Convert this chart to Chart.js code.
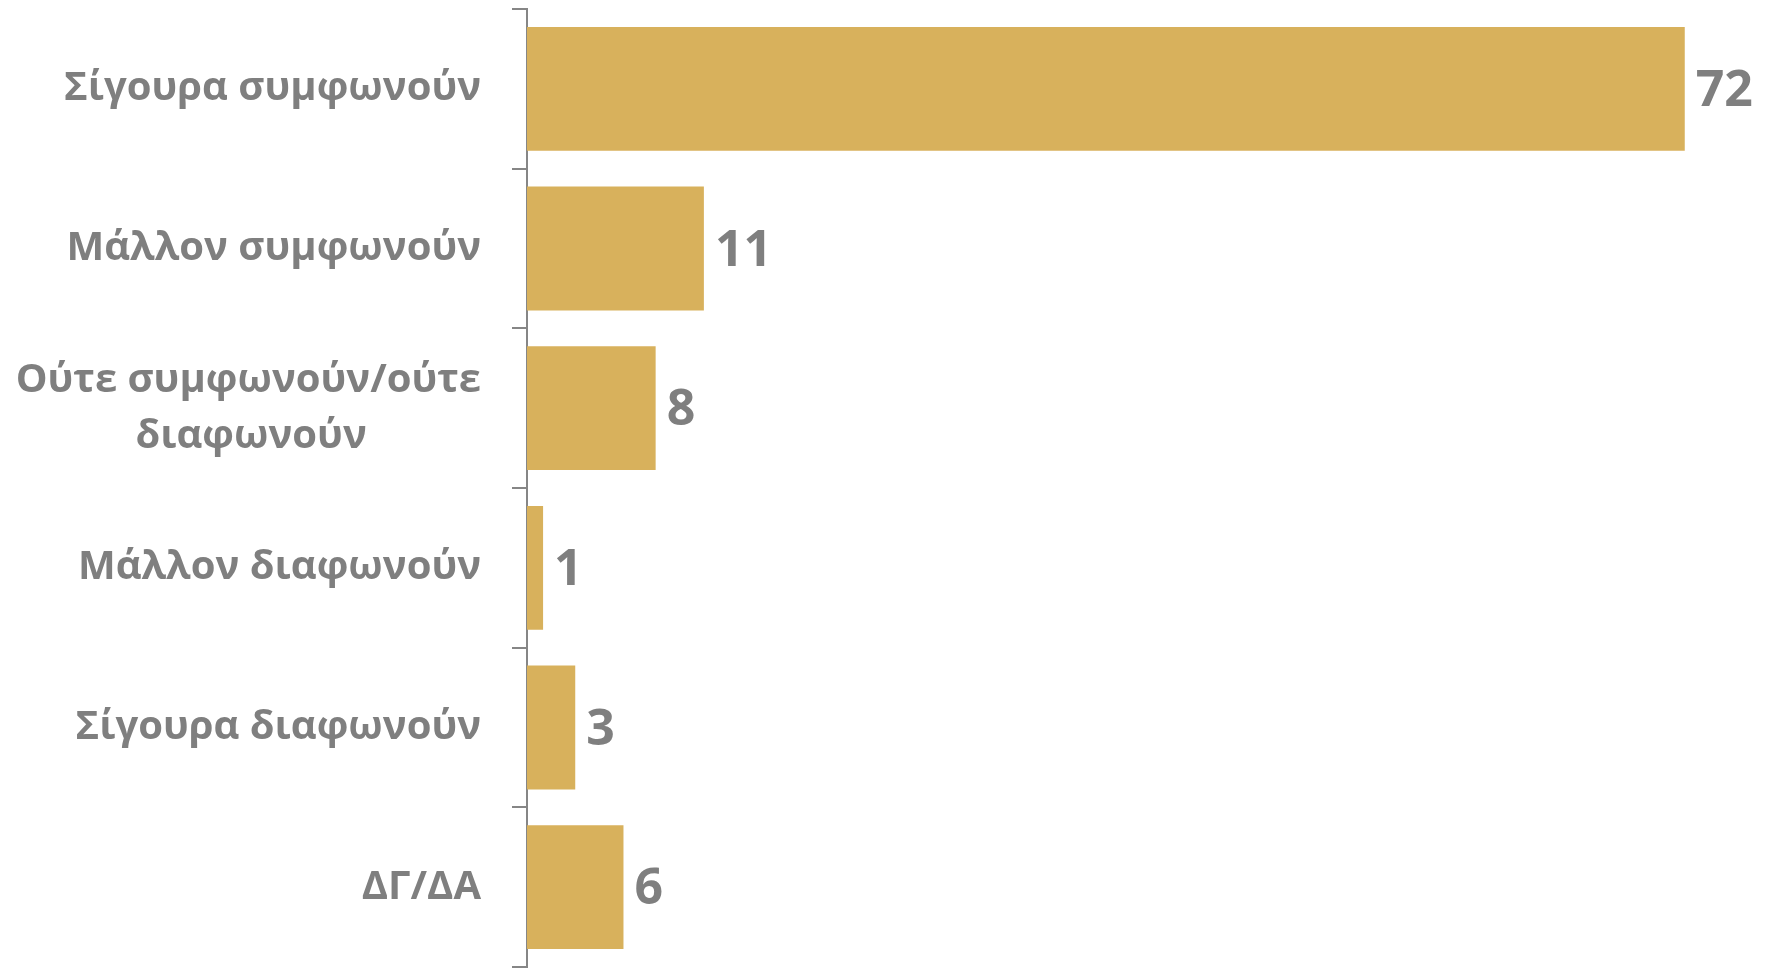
<!DOCTYPE html>
<html>
<head>
<meta charset="utf-8">
<script src="https://cdn.jsdelivr.net/npm/chart.js@4/dist/chart.umd.min.js"></script>
<style>
  html, body { margin: 0; padding: 0; background: #ffffff; }
  #wrap { width: 1768px; height: 973px; }
</style>
</head>
<body>
<div id="wrap"><canvas id="agreeChart"></canvas></div>
<script>
// second line padded so it sits centred under the first one
const categories = [
    "Σίγουρα συμφωνούν",
    "Μάλλον συμφωνούν",
    ["Ούτε συμφωνούν/ούτε", "διαφωνούν" + "\u00a0".repeat(11)],
    "Μάλλον διαφωνούν",
    "Σίγουρα διαφωνούν",
    "ΔΓ/ΔΑ"
];
const values = [72, 11, 8, 1, 3, 6];

const gray = "#7f7f7f";
const fontFamily = "'Open Sans', sans-serif";

// Value labels drawn next to each bar
const valueLabels = {
    id: "valueLabels",
    afterDatasetsDraw(chart) {
        const ctx = chart.ctx;
        const meta = chart.getDatasetMeta(0);
        ctx.save();
        ctx.font = "bold 50px " + fontFamily;
        ctx.fillStyle = gray;
        ctx.textAlign = "left";
        ctx.textBaseline = "middle";
        meta.data.forEach(function (bar, i) {
            ctx.fillText(values[i], bar.x + 11, bar.y + 3);
        });
        ctx.restore();
    }
};

new Chart(
    document.getElementById("agreeChart"),
    {
        type: "bar",
        data: {
            labels: categories,
            datasets: [{
                data: values,
                backgroundColor: "#d8b15c",
                borderWidth: 0,
                categoryPercentage: 1,
                barPercentage: 0.776
            }]
        },
        options: {
            indexAxis: "y",
            responsive: true,
            maintainAspectRatio: false,
            animation: false,
            layout: { padding: { top: 9, bottom: 6, left: 0, right: 35 } },
            plugins: {
                legend: { display: false },
                tooltip: { enabled: false }
            },
            scales: {
                x: {
                    display: false,
                    min: 0,
                    max: 75
                },
                y: {
                    afterFit(scale) {
                        scale.width = 527;
                        scale.paddingTop = 0;
                        scale.paddingBottom = 0;
                    },
                    grid: {
                        drawOnChartArea: false,
                        drawTicks: true,
                        tickLength: 15,
                        color: "#868686",
                        lineWidth: 2
                    },
                    border: { color: "#868686", width: 2 },
                    ticks: {
                        color: gray,
                        padding: 31,
                        font: { family: fontFamily, size: 40, weight: "bold", lineHeight: 1.4 }
                    }
                }
            }
        },
        plugins: [valueLabels]
    }
);
</script>
</body>
</html>
